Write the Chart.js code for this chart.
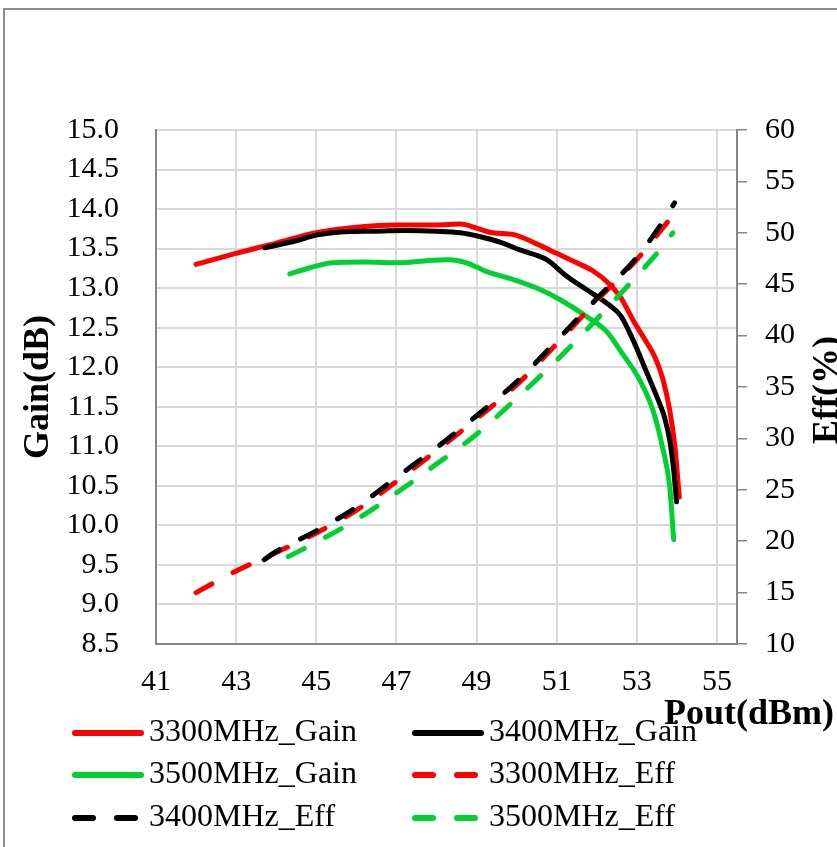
<!DOCTYPE html>
<html><head><meta charset="utf-8">
<script src="https://cdn.jsdelivr.net/npm/chart.js@4"></script>
<style>html,body{margin:0;padding:0;background:#fff;}canvas{display:block;}</style>
</head><body>
<canvas id="c" width="837" height="847"></canvas>
<script>
// ---- DATA ----
const seriesNames = ['3300MHz_Gain','3400MHz_Gain','3500MHz_Gain','3300MHz_Eff','3400MHz_Eff','3500MHz_Eff'];
const seriesColors = ['#ff0000','#000000','#00d030','#ff0000','#000000','#00d030'];

const gain3300X = [42.0,43.0,44.0,45.0,46.0,47.0,48.0,48.6,49.0,49.4,49.9,50.5,51.0,51.5,51.9,52.3,52.6,52.9,53.2,53.45,53.65,53.82,53.95,54.02,54.06];
const gain3300Y = [13.30,13.44,13.57,13.70,13.77,13.80,13.80,13.81,13.76,13.70,13.68,13.56,13.44,13.32,13.22,13.06,12.88,12.60,12.35,12.13,11.85,11.46,11.00,10.60,10.36];

const gain3400X = [43.72,44.5,45.0,45.6,46.5,47.2,48.0,48.6,49.1,49.6,50.1,50.75,51.25,51.75,52.25,52.6,52.9,53.25,53.6,53.69,53.82,53.92,53.99];
const gain3400Y = [13.51,13.60,13.67,13.71,13.72,13.73,13.72,13.70,13.65,13.58,13.48,13.36,13.15,12.98,12.81,12.65,12.35,11.93,11.50,11.37,11.08,10.70,10.30];

const gain3500X = [44.34,45.0,45.4,46.2,47.1,47.8,48.3,48.75,49.25,49.85,50.6,51.1,51.75,52.25,52.6,53.07,53.4,53.64,53.82,53.92];
const gain3500Y = [13.18,13.28,13.32,13.33,13.32,13.35,13.36,13.32,13.21,13.12,12.98,12.85,12.64,12.45,12.20,11.84,11.46,10.99,10.49,9.82];

const eff3300X = [42.0,43.0,44.0,45.0,46.0,47.0,48.0,49.0,50.0,51.0,52.0,53.0,53.82];
const eff3300Y = [15.0,17.1,18.9,20.8,23.0,25.8,28.8,31.9,35.2,39.2,43.4,47.4,51.3];

const eff3400X = [43.7,44.0,45.0,46.0,47.0,48.0,49.0,50.0,51.0,52.0,53.0,53.6,53.94];
const eff3400Y = [18.2,19.0,21.0,23.3,26.2,29.1,32.2,35.5,39.5,43.6,47.6,50.8,52.9];

const eff3500X = [44.3,45.0,46.0,47.0,48.0,49.0,50.0,51.0,52.0,53.0,53.5,53.9];
const eff3500Y = [18.5,19.9,22.1,24.7,27.5,30.4,33.9,37.6,41.6,45.8,48.0,50.0];

const xTicks = [41,43,45,47,49,51,53,55];
const gainTicks = [8.5,9.0,9.5,10.0,10.5,11.0,11.5,12.0,12.5,13.0,13.5,14.0,14.5,15.0];
const effTicks = [10,15,20,25,30,35,40,45,50,55,60];
const xTitle = 'Pout(dBm)';
const gainTitle = 'Gain(dB)';
const effTitle = 'Eff(%)';

// ---- BUILD ----
const zip = (xs, ys) => xs.map((x, i) => ({x: x, y: ys[i]}));
const seriesData = [
  zip(gain3300X, gain3300Y), zip(gain3400X, gain3400Y), zip(gain3500X, gain3500Y),
  zip(eff3300X, eff3300Y), zip(eff3400X, eff3400Y), zip(eff3500X, eff3500Y)
];
const DASH = [18, 24];
const datasets = seriesData.map((d, i) => ({
  label: seriesNames[i],
  data: d,
  yAxisID: i < 3 ? 'y' : 'y2',
  borderColor: seriesColors[i],
  backgroundColor: seriesColors[i],
  borderWidth: 5,
  borderDash: i < 3 ? [] : DASH,
  borderCapStyle: 'round',
  borderJoinStyle: 'round',
  pointRadius: 0,
  cubicInterpolationMode: 'monotone',
  fill: false,
  order: 6 - i
}));

const FONT = '"Liberation Serif", "Times New Roman", serif';
const AXIS = '#868686';
const GRID = '#d9d9d9';

const decor = {
  id: 'decor',
  beforeDraw(chart) {
    const ctx = chart.ctx;
    ctx.save();
    ctx.fillStyle = '#fff';
    ctx.fillRect(0, 0, chart.width, chart.height);
    ctx.strokeStyle = '#8c8c8c';
    ctx.lineWidth = 2;
    ctx.strokeRect(4, 9, 1000, 1000);
    ctx.restore();
  },
  afterDraw(chart) {
    const ctx = chart.ctx;
    ctx.save();
    // legend
    const rows = [733, 775, 818];
    const cols = [{l: 72, r: 144, t: 149}, {l: 412, r: 484, t: 489}];
    const layout = [[0,0],[0,1],[1,0],[1,1],[2,0],[2,1]];
    ctx.font = '32px ' + FONT;
    ctx.textBaseline = 'middle';
    ctx.textAlign = 'left';
    for (let i = 0; i < 6; i++) {
      const [r, c] = layout[i];
      const y = rows[r], col = cols[c];
      ctx.strokeStyle = seriesColors[i];
      ctx.lineWidth = 6;
      ctx.lineCap = 'round';
      ctx.beginPath();
      if (i < 3) {
        ctx.moveTo(col.l + 3, y); ctx.lineTo(col.r - 3, y);
      } else {
        ctx.moveTo(col.l + 3, y); ctx.lineTo(col.l + 21, y);
        ctx.moveTo(col.l + 45, y); ctx.lineTo(col.l + 63, y);
      }
      ctx.stroke();
      ctx.fillStyle = '#000';
      ctx.fillText(seriesNames[i], col.t, y);
    }
    // axis titles
    ctx.font = 'bold 36px ' + FONT;
    ctx.fillStyle = '#000';
    ctx.textAlign = 'center';
    ctx.textBaseline = 'middle';
    ctx.save();
    ctx.translate(39, 387); ctx.rotate(-Math.PI / 2);
    ctx.fillText(gainTitle, 0, 0);
    ctx.restore();
    ctx.save();
    ctx.translate(828, 390); ctx.rotate(-Math.PI / 2);
    ctx.fillText(effTitle, 0, 0);
    ctx.restore();
    ctx.fillText(xTitle, 749, 715);
    ctx.restore();
  }
};

new Chart(document.getElementById('c'), {
  type: 'line',
  data: {datasets: datasets},
  plugins: [decor],
  options: {
    responsive: false,
    animation: false,
    devicePixelRatio: 1,
    layout: {padding: {top: 130, left: 0, right: 0, bottom: 0}},
    plugins: {legend: {display: false}, tooltip: {enabled: false}},
    scales: {
      x: {
        type: 'linear', min: 41, max: 55.5,
        afterBuildTicks: s => { s.ticks = xTicks.map(v => ({value: v})); },
        afterFit: s => { s.height = 203; },
        ticks: {font: {family: FONT, size: 30}, color: '#000', padding: 20, maxRotation: 0, autoSkip: false},
        grid: {color: GRID, lineWidth: 2, drawTicks: false},
        border: {color: AXIS, width: 2}
      },
      y: {
        type: 'linear', position: 'left', min: 8.5, max: 15,
        afterBuildTicks: s => { s.ticks = gainTicks.map(v => ({value: v})); },
        afterFit: s => { s.width = 156; },
        ticks: {font: {family: FONT, size: 30}, color: '#000', padding: 37, autoSkip: false,
                callback: v => Number(v).toFixed(1)},
        grid: {color: GRID, lineWidth: 2, drawTicks: false},
        border: {color: AXIS, width: 2}
      },
      y2: {
        type: 'linear', position: 'right', min: 10, max: 60,
        afterBuildTicks: s => { s.ticks = effTicks.map(v => ({value: v})); },
        afterFit: s => { s.width = 100; },
        ticks: {font: {family: FONT, size: 30}, color: '#000', padding: 18, autoSkip: false},
        grid: {drawOnChartArea: false, color: AXIS, lineWidth: 1.5, tickLength: 10},
        border: {color: AXIS, width: 2}
      }
    }
  }
});
</script>
</body></html>
